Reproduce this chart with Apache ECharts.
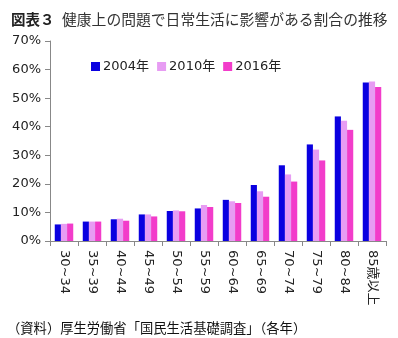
<!DOCTYPE html>
<html><head><meta charset="utf-8">
<script src="https://cdn.jsdelivr.net/npm/echarts@6/dist/echarts.min.js"></script>
<style>html,body{margin:0;padding:0;background:#fff}#c{width:398px;height:338px}</style>
</head><body><div id="c"></div>
<script>
const categories = ['30~34','35~39','40~44','45~49','50~54','55~59','60~64','65~69','70~74','75~79','80~84','85歳以上'];
const s2004 = [5.8, 6.8, 7.6, 9.3, 10.5, 11.4, 14.4, 19.6, 26.5, 33.8, 43.6, 55.5];
const s2010 = [6.0, 6.8, 7.8, 9.3, 10.7, 12.6, 13.9, 17.4, 23.3, 32.0, 42.1, 55.8];
const s2016 = [6.1, 6.8, 7.1, 8.6, 10.4, 11.9, 13.3, 15.5, 20.8, 28.2, 38.9, 53.9];
const seriesNames = ['2004年','2010年','2016年'];
const yTicks = [0,10,20,30,40,50,60,70];
const colors = ['#0a00e0','#e79cf3','#f23cca'];
const font = 'Verdana, "DejaVu Sans", "Noto Sans CJK JP", sans-serif';
const chart = echarts.init(document.getElementById('c'));
chart.setOption({
  animation:false,
  color: colors,
  title:[
    {text:'図表３', left:6, top:7, textStyle:{fontSize:14.5, fontWeight:'bold', color:'#222', fontFamily:'"Noto Sans CJK JP", sans-serif'}},
    {text:'健康上の問題で日常生活に影響がある割合の推移', left:57, top:7, textStyle:{fontSize:14.8, fontWeight:'normal', color:'#333', fontFamily:'"Noto Sans CJK JP", sans-serif'}},
    {text:'（資料）厚生労働省「国民生活基礎調査」（各年）', left:2, top:316, textStyle:{fontSize:13.3, fontWeight:'normal', color:'#111', fontFamily:'"Noto Sans CJK JP", sans-serif'}}
  ],
  legend:{left:86, top:55, itemWidth:9, itemHeight:9, itemGap:8, icon:'rect',
    textStyle:{fontSize:13, color:'#222', fontFamily:font, padding:[0,0,0,-2]}, data:seriesNames},
  grid:{left:50, right:12, top:41, bottom:97},
  xAxis:{type:'category', data:categories,
    axisLine:{lineStyle:{color:'#888'}},
    axisTick:{show:true, length:5, lineStyle:{color:'#888'}},
    axisLabel:{rotate:-90, fontSize:13, color:'#222', fontFamily:font, margin:9}},
  yAxis:{type:'value', min:0, max:70, interval:10,
    axisLine:{show:true, lineStyle:{color:'#888'}},
    axisTick:{show:true, length:5, lineStyle:{color:'#888'}},
    splitLine:{show:false},
    axisLabel:{formatter: v => yTicks.includes(v) ? v+'%' : '', fontSize:13, color:'#222', fontFamily:font, margin:9}},
  series:[
    {name:seriesNames[0], type:'bar', data:s2004, barGap:'0%', barCategoryGap:'34%'},
    {name:seriesNames[1], type:'bar', data:s2010, barGap:'0%', barCategoryGap:'34%'},
    {name:seriesNames[2], type:'bar', data:s2016, barGap:'0%', barCategoryGap:'34%'}
  ]
});
</script></body></html>
